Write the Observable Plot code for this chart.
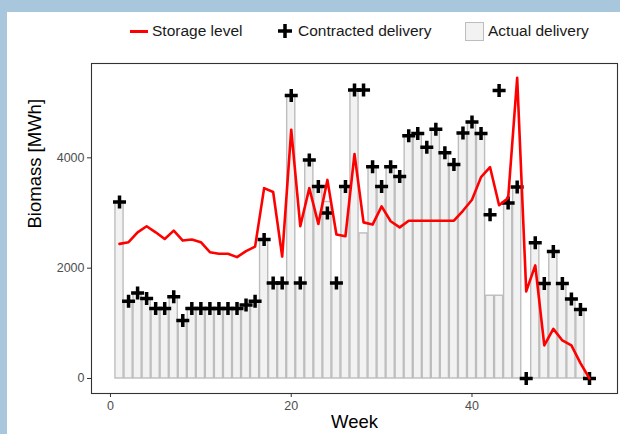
<!DOCTYPE html>
<html>
<head>
<meta charset="utf-8">
<script src="https://cdn.jsdelivr.net/npm/d3@7"></script>
<script src="https://cdn.jsdelivr.net/npm/@observablehq/plot@0.6"></script>
<style>
html,body{margin:0;padding:0;}
body{width:620px;height:434px;background:#a8c7dd;position:relative;overflow:hidden;font-family:"Liberation Sans",Arial,sans-serif;}
#panel{position:absolute;left:7px;top:12px;width:613px;height:422px;background:#fff;}
#legend{position:absolute;left:0;top:0;width:613px;height:38px;font-size:15.5px;color:#1a1a1a;}
#legend .t{position:absolute;top:0;height:38px;line-height:38px;white-space:nowrap;}
#legend .ln{position:absolute;left:123px;top:17.5px;width:18px;height:3px;background:#ff0000;}
#legend .pl{position:absolute;left:271px;top:12px;width:14px;height:14px;}
#legend .bx{position:absolute;left:458px;top:9.5px;width:17px;height:17px;background:#f2f2f2;border:1.3px solid #bdbdbd;}
#chart{position:absolute;left:0;top:38px;}
</style>
</head>
<body>
<div id="panel">
  <div id="legend">
    <div class="ln"></div><div class="t" style="left:145px">Storage level</div>
    <svg class="pl" viewBox="0 0 14 14"><path d="M0,7H14M7,0V14" stroke="#000" stroke-width="3.5" fill="none"/></svg>
    <div class="t" style="left:291px">Contracted delivery</div>
    <div class="bx"></div><div class="t" style="left:481px">Actual delivery</div>
  </div>
  <div id="chart"></div>
</div>
<script>
const weeks = d3.range(1, 54);
const contracted = [3200,1400,1550,1450,1270,1270,1480,1050,1270,1270,1270,1270,1270,1270,1330,1400,2520,1730,1730,5130,1730,3960,3480,3000,1730,3480,5230,5230,3840,3480,3840,3660,4400,4440,4190,4520,4090,3880,4450,4650,4440,2970,5220,3180,3470,0,2460,1720,2300,1720,1440,1250,0];
const actual = [3200,1400,1550,1450,1270,1270,1480,1050,1270,1270,1270,1270,1270,1270,1330,1400,2520,1730,1730,5130,1730,3960,3480,3200,1730,3480,5230,2630,3840,3480,3840,3660,4400,4440,4190,4520,4090,3880,4450,4650,4440,1500,1500,3180,3470,0,2460,1720,2300,1720,1440,1250,0];
const storage = [2440,2470,2650,2760,2650,2530,2680,2500,2520,2470,2290,2260,2260,2200,2310,2390,3450,3380,2210,4510,2760,3450,2800,3600,2610,2580,4070,2830,2790,3120,2850,2740,2860,2860,2860,2860,2860,2860,3040,3240,3650,3830,3140,3270,5450,1580,2050,600,900,690,600,280,0];
const xTicks = [0, 20, 40];
const yTicks = [0, 2000, 4000];
const xTitle = "Week";
const yTitle = "Biomass [MWh]";

const rows = weeks.map((w, i) => ({week: w, contracted: contracted[i], actual: actual[i], storage: storage[i]}));

const plusSymbol = {
  draw(ctx, size) {
    const r = Math.sqrt(size / Math.PI);
    ctx.moveTo(-r, 0); ctx.lineTo(r, 0);
    ctx.moveTo(0, -r); ctx.lineTo(0, r);
  }
};

const chart = Plot.plot({
  width: 613, height: 384,
  marginLeft: 84, marginRight: 3, marginTop: 13, marginBottom: 41,
  style: {background: "transparent", fontFamily: "Liberation Sans, Arial, sans-serif", overflow: "visible"},
  x: {domain: [-2.1, 56.1]},
  y: {domain: [-272, 5710]},
  marks: [
    Plot.rect(rows, {x1: d => d.week - 0.45, x2: d => d.week + 0.45, y1: 0, y2: "actual", fill: "#f2f2f2", stroke: "#bdbdbd", strokeWidth: 1.4}),
    Plot.dot(rows, {x: "week", y: "contracted", symbol: plusSymbol, r: 6.5, stroke: "#000", strokeWidth: 3.5, fill: "none"}),
    Plot.line(rows, {x: "week", y: "storage", stroke: "#ff0000", strokeWidth: 2.6}),
    Plot.frame({stroke: "#333", strokeWidth: 1.1}),
    Plot.axisX({ticks: xTicks, tickSize: 4, tickPadding: 4, stroke: "#333", fill: "#4d4d4d", fontSize: 12.5, label: null, tickFormat: d => String(d)}),
    Plot.axisY({ticks: yTicks, tickSize: 4, tickPadding: 3, stroke: "#333", fill: "#4d4d4d", fontSize: 12.5, label: null, tickFormat: d => String(d)}),
    Plot.text([xTitle], {text: d => d, frameAnchor: "bottom", dy: 34, fontSize: 18.5, fill: "#000"}),
    Plot.text([yTitle], {text: d => d, frameAnchor: "left", dx: -56, rotate: -90, fontSize: 18.5, fill: "#000"})
  ]
});
document.getElementById("chart").appendChild(chart);
</script>
</body>
</html>
